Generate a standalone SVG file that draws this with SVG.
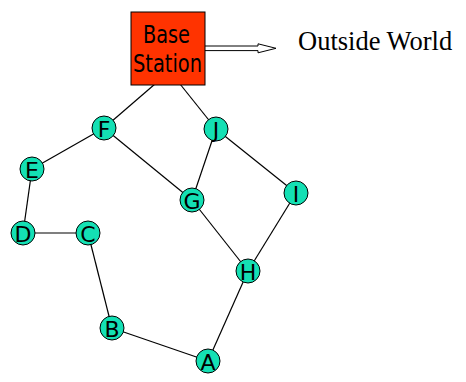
<svg xmlns="http://www.w3.org/2000/svg" width="466" height="382" viewBox="0 0 466 382">
<style>
.edge{stroke:#000;stroke-width:1.2;fill:none}
.node circle{fill:#14e0b4;stroke:#000;stroke-width:1}
.node text{font-family:"DejaVu Sans",Verdana,sans-serif;font-size:22px;text-anchor:middle;fill:#000}
.bs text{font-family:"DejaVu Sans",Verdana,sans-serif;font-size:24px;fill:#000}
</style>
<rect width="466" height="382" fill="#fff"/>
<g id="connectors">
<line class="edge" x1="155" y1="84" x2="104" y2="128"/>
<line class="edge" x1="180" y1="84" x2="216" y2="129"/>
<line class="edge" x1="104" y1="128" x2="32" y2="169"/>
<line class="edge" x1="104" y1="128" x2="192" y2="200"/>
<line class="edge" x1="216" y1="129" x2="192" y2="200"/>
<line class="edge" x1="216" y1="129" x2="296" y2="193"/>
<line class="edge" x1="32" y1="169" x2="23" y2="233"/>
<line class="edge" x1="23" y1="233" x2="88" y2="233"/>
<line class="edge" x1="88" y1="233" x2="112" y2="328"/>
<line class="edge" x1="112" y1="328" x2="208" y2="361"/>
<line class="edge" x1="208" y1="361" x2="248" y2="271"/>
<line class="edge" x1="248" y1="271" x2="192" y2="200"/>
<line class="edge" x1="248" y1="271" x2="296" y2="193"/>
<polygon points="204,46 258,46 258,43.8 276,48.3 258,52.8 258,50.6 204,50.6" fill="#fff" stroke="#000" stroke-width="1"/>
</g>
<g id="base-station" class="bs">
<rect x="131" y="12" width="74" height="73" fill="#ff3300" stroke="#000" stroke-width="1"/>
<text x="143" y="42.5" textLength="47" lengthAdjust="spacingAndGlyphs">Base</text>
<text x="133" y="71.5" textLength="69" lengthAdjust="spacingAndGlyphs">Station</text>
</g>
<g id="outside-world">
<text x="298" y="50" font-family="'Liberation Serif','Times New Roman',serif" font-size="26.5" fill="#000">Outside World</text>
</g>
<g id="node-F" class="node"><circle cx="104" cy="128" r="12"/><text x="104" y="137">F</text></g>
<g id="node-J" class="node"><circle cx="216" cy="129" r="12"/><text x="216" y="138">J</text></g>
<g id="node-E" class="node"><circle cx="32" cy="169" r="12"/><text x="32" y="178">E</text></g>
<g id="node-G" class="node"><circle cx="192" cy="200" r="12"/><text x="192" y="209">G</text></g>
<g id="node-I" class="node"><circle cx="296" cy="193" r="12"/><text x="296" y="202">I</text></g>
<g id="node-D" class="node"><circle cx="23" cy="233" r="12"/><text x="23" y="242">D</text></g>
<g id="node-C" class="node"><circle cx="88" cy="233" r="12"/><text x="88" y="242">C</text></g>
<g id="node-H" class="node"><circle cx="248" cy="271" r="12"/><text x="248" y="280">H</text></g>
<g id="node-B" class="node"><circle cx="112" cy="328" r="12"/><text x="112" y="337">B</text></g>
<g id="node-A" class="node"><circle cx="208" cy="361" r="12"/><text x="208" y="370">A</text></g>
</svg>
